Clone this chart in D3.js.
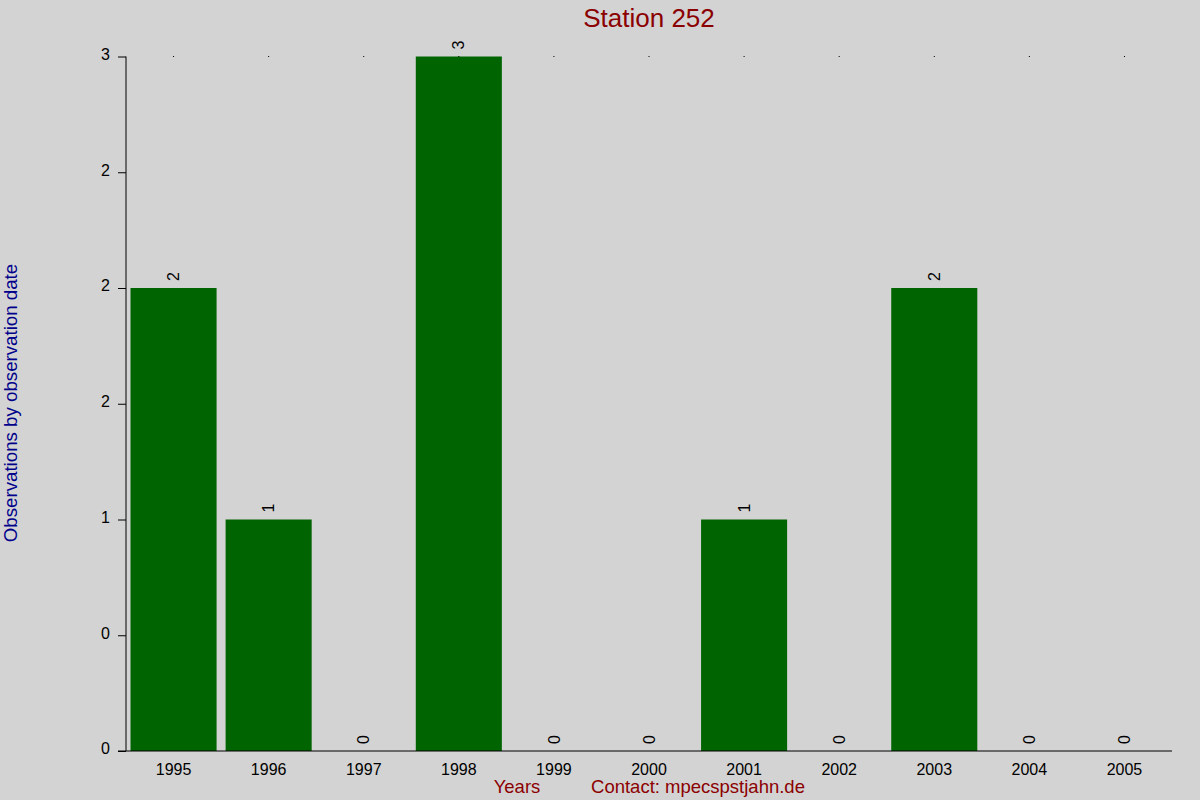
<!DOCTYPE html>
<html><head><meta charset="utf-8">
<script src="https://cdn.jsdelivr.net/npm/d3@7"></script>
<style>html,body{margin:0;padding:0;background:#d3d3d3;}svg{display:block;font-family:"Liberation Sans",Arial,sans-serif;}</style>
</head><body>
<script>
const years = ["1995","1996","1997","1998","1999","2000","2001","2002","2003","2004","2005"];
const counts = [2,1,0,3,0,0,1,0,2,0,0];
const yTickValues = [0,0.5,1,1.5,2,2.5,3];
const yTickLabels = ["0","0","1","2","2","2","3"];
const title = "Station 252";
const yTitle = "Observations by observation date";
const xTitle = "Years";
const contact = "Contact: mpecspstjahn.de";

const W=1200,H=800;
const svg=d3.select("body").append("svg").attr("width",W).attr("height",H);
svg.append("rect").attr("width",W).attr("height",H).attr("fill","#d3d3d3");

const x=d3.scaleBand().domain(years).range([126,1172]).paddingInner(0.095).paddingOuter(0.0475);
const y=d3.scaleLinear().domain([0,3]).range([751,56.5]);

// bars
svg.selectAll("rect.bar").data(years).enter().append("rect").attr("class","bar")
  .attr("x",d=>x(d)).attr("width",x.bandwidth())
  .attr("y",(d,i)=>y(counts[i])).attr("height",(d,i)=>y(0)-y(counts[i]))
  .attr("fill","#006400");

// top dots
svg.selectAll("rect.dot").data(years).enter().append("rect")
  .attr("x",d=>x(d)+x.bandwidth()/2-0.5).attr("y",y(3)-0.5).attr("width",1).attr("height",1).attr("fill","#000");

// value labels
svg.selectAll("text.val").data(years).enter().append("text")
  .attr("transform",(d,i)=>`translate(${x(d)+x.bandwidth()/2},${y(counts[i])-7}) rotate(-90)`)
  .attr("dy","0.35em").attr("font-size",16).attr("fill","#000").text((d,i)=>counts[i]);

// y axis
const yAxis=d3.axisLeft(y).tickValues(yTickValues).tickSize(8).tickFormat((d,i)=>yTickLabels[i]);
const gy=svg.append("g").attr("transform","translate(126,0)").call(yAxis);
gy.select(".domain").attr("d",`M0,${y(3)}V${y(0)}`).attr("stroke","#000");
gy.selectAll("text").attr("font-size",16).attr("font-family","Liberation Sans,Arial,sans-serif").attr("fill","#000").attr("x",-16).attr("dy","0.18em");
gy.selectAll("line").attr("stroke","#000");

// x axis
const xAxis=d3.axisBottom(x).tickSize(0).tickPadding(13);
const gx=svg.append("g").attr("transform",`translate(0,${y(0)})`).call(xAxis);
gx.select(".domain").attr("d",`M118,0H1172`).attr("stroke","#000");
gx.selectAll("text").attr("font-size",16).attr("font-family","Liberation Sans,Arial,sans-serif").attr("fill","#000");

// titles
svg.append("text").attr("x",649).attr("y",27).attr("text-anchor","middle").attr("font-size",26).attr("fill","#8b0000").text(title);
svg.append("text").attr("transform","translate(17,403) rotate(-90)").attr("text-anchor","middle").attr("font-size",18.7).attr("fill","#00008b").text(yTitle);
svg.append("text").attr("x",517).attr("y",793).attr("text-anchor","middle").attr("font-size",18.5).attr("fill","#8b0000").text(xTitle);
svg.append("text").attr("x",698).attr("y",793).attr("text-anchor","middle").attr("font-size",18.5).attr("fill","#8b0000").text(contact);
</script>
</body></html>
